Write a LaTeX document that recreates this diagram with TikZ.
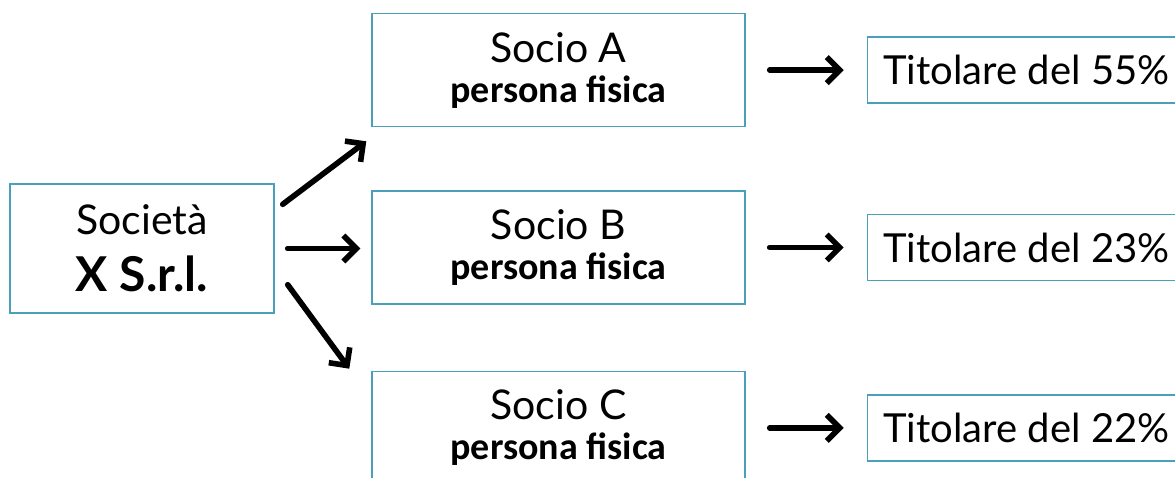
\documentclass[tikz,border=0pt]{standalone}
\usepackage{fontspec}
\setmainfont{Lato}
\newfontfamily\carlito{Carlito}
\usetikzlibrary{arrows.meta}
\usetikzlibrary{positioning}
\usetikzlibrary{calc}
\definecolor{boxteal}{RGB}{75,160,185}
\tikzset{
    entity/.style={draw=boxteal, line width=1.4pt, inner sep=0pt, align=center,
        minimum width=373pt, minimum height=113pt, font=\fontsize{41}{40}\selectfont},
    company/.style={entity, minimum width=264pt, minimum height=129pt,
        font=\fontsize{41}{57}\selectfont},
    share/.style={draw=boxteal, line width=1.4pt, inner xsep=16pt, inner ysep=0pt,
        minimum height=66pt, font=\fontsize{40}{40}\selectfont},
    owns/.style={draw=black, line width=5.6pt, line cap=round,
        -{Straight Barb[length=13pt,width=26pt]}},
}
\newcommand{\persfis}{{\carlito\bfseries\fontsize{38}{40}\selectfont persona fisica}}
\begin{document}
\begin{tikzpicture}[x=1pt,y=1pt]
	\useasboundingbox (0,0) rectangle (1175,477);
	\fill[white] (0,0) rectangle (1175,477);
	\clip (0,0) rectangle (1175,477);
	% company and its members
	\node[company] (soc) at (142,228.5) {Società\\{\bfseries\fontsize{48}{57}\selectfont X S.r.l.}};
	\node[entity] (socB) at (558.5,229.5) {Socio B\\\persfis};
	\node[entity, above=63pt of socB] (socA) {Socio A\\\persfis};
	\node[entity, below=66pt of socB] (socC) {Socio C\\\persfis};
	% shares
	\node[share, right=121pt of socA] (titA) {Titolare del 55\%};
	\node[share, right=121pt of socB] (titB) {Titolare del 23\%};
	\node[share, right=121pt of socC] (titC) {Titolare del 22\%};
	% arrows
	\draw[owns] ($(soc.north east)+(8,-21)$) -- ($(socA.south west)+(-5,-14)$);
	\draw[owns, shorten <=13pt, shorten >=11pt] (soc.east) -- (soc.east -| socB.west);
	\draw[owns] ($(soc.south east)+(13,29)$) -- ($(socC.north west)+(-22,2)$);
	\draw[owns, shorten <=24pt, shorten >=23pt] (socA.east) -- (socA.east -| titA.west);
	\draw[owns, shorten <=24pt, shorten >=23pt] (socB.east) -- (socB.east -| titB.west);
	\draw[owns, shorten <=24pt, shorten >=23pt] (socC.east) -- (socC.east -| titC.west);
\end{tikzpicture}
\end{document}
